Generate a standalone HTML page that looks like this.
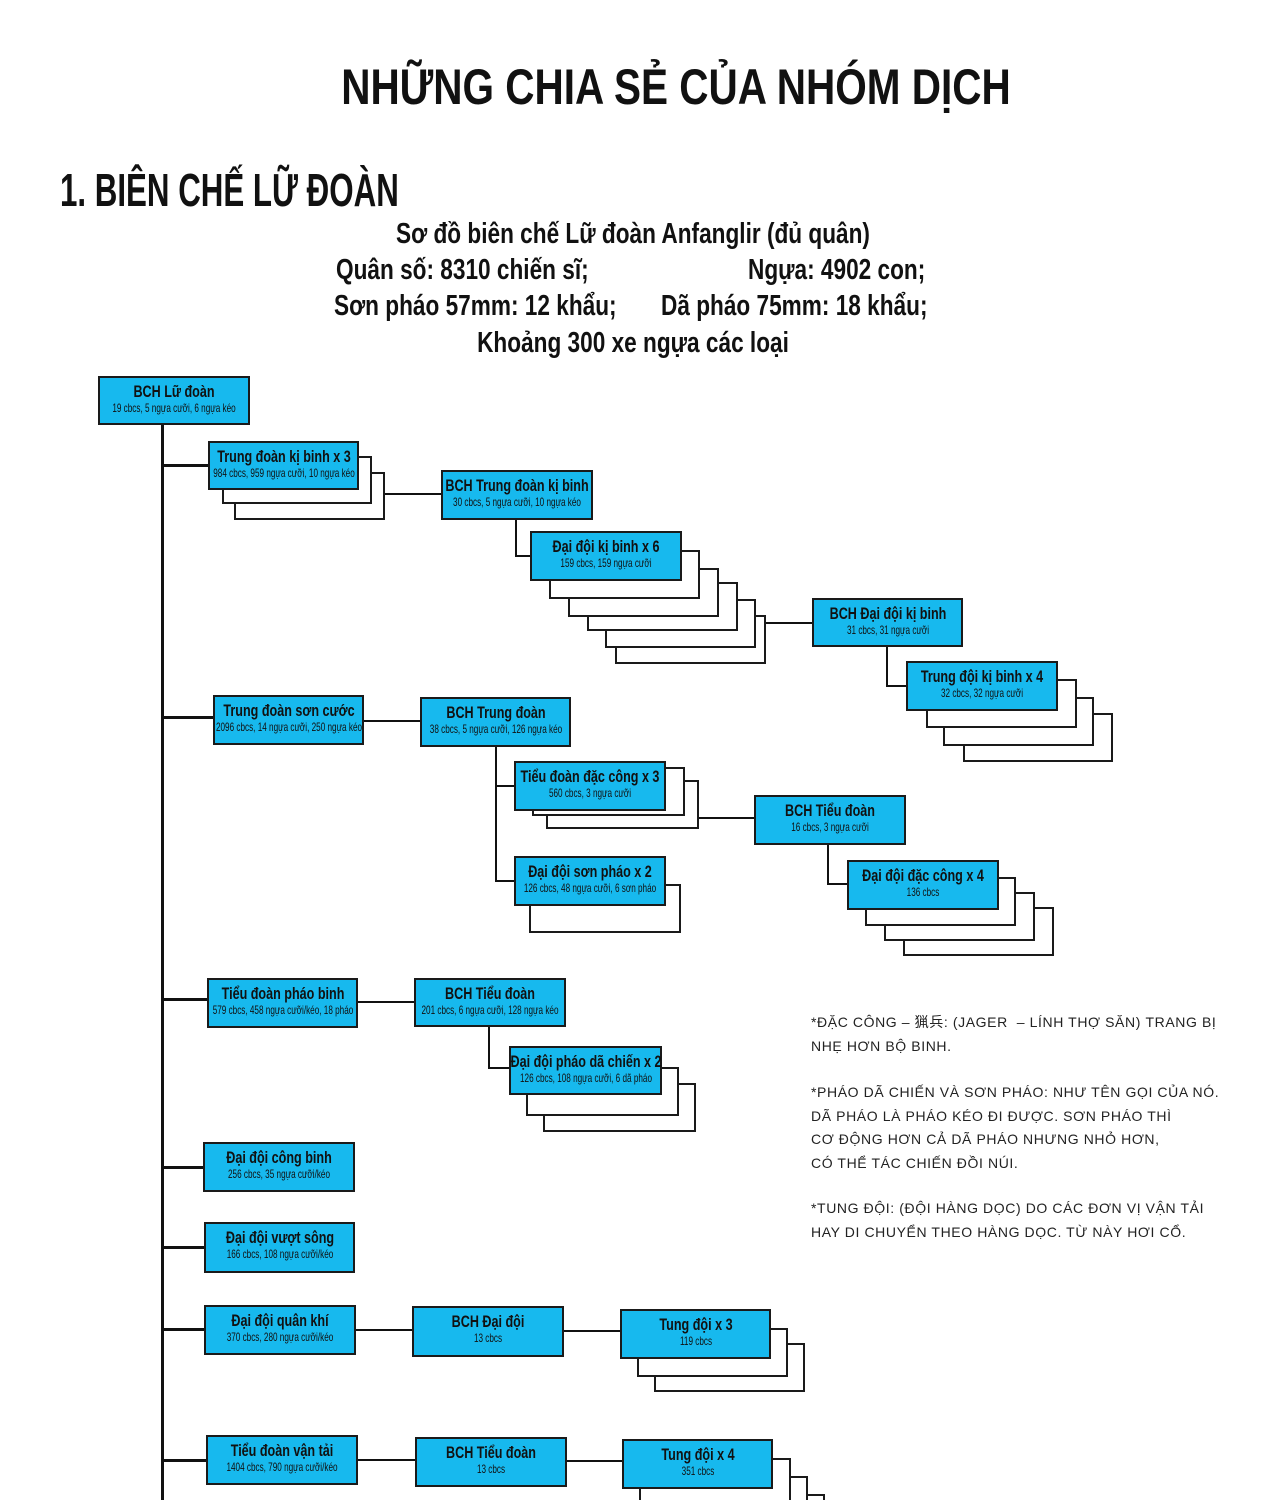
<!DOCTYPE html>
<html><head><meta charset="utf-8"><style>
html,body{margin:0;width:1266px;height:1500px;overflow:hidden}
body{background:#fff;position:relative;font-family:"Liberation Sans","Noto Sans CJK SC",sans-serif;}
.b{position:absolute;background:#17b9ee;border:2px solid #1a1a1a;box-sizing:border-box;color:#111;z-index:5}
.c{position:absolute;background:#fff;border:2px solid #1a1a1a;box-sizing:border-box}
.t,.s{position:absolute;left:50%;white-space:nowrap;transform:translateX(-50%) scaleX(.74)}
.t{top:4px;font-weight:bold;font-size:17px;line-height:19px}
.s{top:24px;font-size:12px;line-height:13px;transform:translateX(-50%) scaleX(.68)}
.h{position:absolute;background:#111}
.txt{position:absolute;white-space:nowrap;font-weight:bold;color:#111}
.n{position:absolute;left:811px;font-size:14px;line-height:23.5px;color:#222;letter-spacing:.6px;white-space:nowrap}
</style></head><body>
<div class="txt" style="left:0;width:1352px;top:58px;text-align:center;font-size:50px;transform:scaleX(.81);">NHỮNG CHIA SẺ CỦA NHÓM DỊCH</div>
<div class="txt" style="left:60px;top:163px;font-size:46px;transform:scaleX(.68);transform-origin:left;">1. BIÊN CHẾ LỮ ĐOÀN</div>
<div class="txt" style="left:0;width:1266px;top:216px;text-align:center;font-size:29px;line-height:36px;font-weight:bold;">
<div style="transform:scaleX(.78)">Sơ đồ biên chế Lữ đoàn Anfanglir (đủ quân)</div></div>
<div class="txt" style="left:336px;top:252px;font-size:29px;line-height:36px;transform:scaleX(.78);transform-origin:left;">Quân số: 8310 chiến sĩ;</div>
<div class="txt" style="left:748px;top:252px;font-size:29px;line-height:36px;transform:scaleX(.78);transform-origin:left;">Ngựa: 4902 con;</div>
<div class="txt" style="left:334px;top:288px;font-size:29px;line-height:36px;transform:scaleX(.78);transform-origin:left;">Sơn pháo 57mm: 12 khẩu;</div>
<div class="txt" style="left:661px;top:288px;font-size:29px;line-height:36px;transform:scaleX(.78);transform-origin:left;">Dã pháo 75mm: 18 khẩu;</div>
<div class="txt" style="left:0;width:1266px;top:325px;text-align:center;font-size:29px;line-height:36px;"><div style="transform:scaleX(.78)">Khoảng 300 xe ngựa các loại</div></div>

<!-- connectors -->
<div class="h" style="left:161px;top:424px;width:3px;height:1076px"></div>
<div class="h" style="left:162px;top:464px;width:46px;height:3px"></div>
<div class="h" style="left:162px;top:716px;width:51px;height:3px"></div>
<div class="h" style="left:162px;top:998px;width:45px;height:3px"></div>
<div class="h" style="left:162px;top:1166px;width:41px;height:3px"></div>
<div class="h" style="left:162px;top:1246px;width:42px;height:3px"></div>
<div class="h" style="left:162px;top:1328px;width:42px;height:3px"></div>
<div class="h" style="left:162px;top:1459px;width:44px;height:3px"></div>
<div class="h" style="left:385px;top:493px;width:56px;height:2px"></div>
<div class="h" style="left:515px;top:519px;width:2px;height:38px"></div>
<div class="h" style="left:515px;top:555px;width:16px;height:2px"></div>
<div class="h" style="left:766px;top:622px;width:46px;height:2px"></div>
<div class="h" style="left:886px;top:646px;width:2px;height:41px"></div>
<div class="h" style="left:886px;top:685px;width:21px;height:2px"></div>
<div class="h" style="left:363px;top:720px;width:57px;height:2px"></div>
<div class="h" style="left:495px;top:746px;width:2px;height:136px"></div>
<div class="h" style="left:495px;top:785px;width:20px;height:2px"></div>
<div class="h" style="left:495px;top:880px;width:19px;height:2px"></div>
<div class="h" style="left:698px;top:817px;width:56px;height:2px"></div>
<div class="h" style="left:827px;top:844px;width:2px;height:41px"></div>
<div class="h" style="left:827px;top:883px;width:21px;height:2px"></div>
<div class="h" style="left:357px;top:1001px;width:57px;height:2px"></div>
<div class="h" style="left:488px;top:1026px;width:2px;height:43px"></div>
<div class="h" style="left:488px;top:1067px;width:21px;height:2px"></div>
<div class="h" style="left:355px;top:1329px;width:57px;height:2px"></div>
<div class="h" style="left:563px;top:1330px;width:57px;height:2px"></div>
<div class="h" style="left:357px;top:1459px;width:58px;height:2px"></div>
<div class="h" style="left:566px;top:1460px;width:56px;height:2px"></div>

<!-- copies -->
<div class="c" style="left:234px;top:472px;width:151px;height:48px;z-index:1"></div>
<div class="c" style="left:222px;top:456px;width:150px;height:48px;z-index:2"></div>

<div class="c" style="left:615px;top:615px;width:151px;height:49px;z-index:0"></div>
<div class="c" style="left:605px;top:599px;width:151px;height:49px;z-index:1"></div>
<div class="c" style="left:587px;top:582px;width:151px;height:49px;z-index:2"></div>
<div class="c" style="left:568px;top:568px;width:151px;height:49px;z-index:3"></div>
<div class="c" style="left:549px;top:550px;width:151px;height:49px;z-index:4"></div>

<div class="c" style="left:963px;top:713px;width:150px;height:49px;z-index:1"></div>
<div class="c" style="left:943px;top:697px;width:151px;height:49px;z-index:2"></div>
<div class="c" style="left:926px;top:679px;width:151px;height:49px;z-index:3"></div>

<div class="c" style="left:546px;top:780px;width:153px;height:49px;z-index:2"></div>
<div class="c" style="left:532px;top:767px;width:153px;height:49px;z-index:3"></div>
<div class="c" style="left:529px;top:884px;width:152px;height:49px;z-index:3"></div>

<div class="c" style="left:903px;top:907px;width:151px;height:49px;z-index:1"></div>
<div class="c" style="left:884px;top:892px;width:151px;height:49px;z-index:2"></div>
<div class="c" style="left:865px;top:877px;width:151px;height:49px;z-index:3"></div>

<div class="c" style="left:543px;top:1083px;width:153px;height:49px;z-index:2"></div>
<div class="c" style="left:526px;top:1067px;width:153px;height:49px;z-index:3"></div>

<div class="c" style="left:654px;top:1343px;width:151px;height:49px;z-index:2"></div>
<div class="c" style="left:637px;top:1328px;width:151px;height:49px;z-index:3"></div>

<div class="c" style="left:673px;top:1494px;width:152px;height:49px;z-index:1"></div>
<div class="c" style="left:656px;top:1476px;width:152px;height:49px;z-index:2"></div>
<div class="c" style="left:639px;top:1458px;width:152px;height:49px;z-index:3"></div>

<!-- boxes -->
<div class="b" style="left:98px;top:376px;width:152px;height:49px"><span class="t">BCH Lữ đoàn</span><span class="s">19 cbcs, 5 ngựa cưỡi, 6 ngựa kéo</span></div>
<div class="b" style="left:208px;top:441px;width:151px;height:49px"><span class="t">Trung đoàn kị binh x 3</span><span class="s">984 cbcs, 959 ngựa cưỡi, 10 ngựa kéo</span></div>
<div class="b" style="left:441px;top:470px;width:152px;height:50px"><span class="t">BCH Trung đoàn kị binh</span><span class="s">30 cbcs, 5 ngựa cưỡi, 10 ngựa kéo</span></div>
<div class="b" style="left:530px;top:531px;width:152px;height:50px"><span class="t">Đại đội kị binh x 6</span><span class="s">159 cbcs, 159 ngựa cưỡi</span></div>
<div class="b" style="left:812px;top:598px;width:151px;height:49px"><span class="t">BCH Đại đội kị binh</span><span class="s">31 cbcs, 31 ngựa cưỡi</span></div>
<div class="b" style="left:906px;top:661px;width:152px;height:50px"><span class="t">Trung đội kị binh x 4</span><span class="s">32 cbcs, 32 ngựa cưỡi</span></div>
<div class="b" style="left:213px;top:695px;width:151px;height:50px"><span class="t">Trung đoàn sơn cước</span><span class="s">2096 cbcs, 14 ngựa cưỡi, 250 ngựa kéo</span></div>
<div class="b" style="left:420px;top:697px;width:151px;height:50px"><span class="t">BCH Trung đoàn</span><span class="s">38 cbcs, 5 ngựa cưỡi, 126 ngựa kéo</span></div>
<div class="b" style="left:514px;top:761px;width:152px;height:50px"><span class="t">Tiểu đoàn đặc công x 3</span><span class="s">560 cbcs, 3 ngựa cưỡi</span></div>
<div class="b" style="left:754px;top:795px;width:152px;height:50px"><span class="t">BCH Tiểu đoàn</span><span class="s">16 cbcs, 3 ngựa cưỡi</span></div>
<div class="b" style="left:514px;top:856px;width:152px;height:50px"><span class="t">Đại đội sơn pháo x 2</span><span class="s">126 cbcs, 48 ngựa cưỡi, 6 sơn pháo</span></div>
<div class="b" style="left:847px;top:860px;width:152px;height:50px"><span class="t">Đại đội đặc công x 4</span><span class="s">136 cbcs</span></div>
<div class="b" style="left:207px;top:978px;width:151px;height:50px"><span class="t">Tiểu đoàn pháo binh</span><span class="s">579 cbcs, 458 ngựa cưỡi/kéo, 18 pháo</span></div>
<div class="b" style="left:414px;top:978px;width:152px;height:49px"><span class="t">BCH Tiểu đoàn</span><span class="s">201 cbcs, 6 ngựa cưỡi, 128 ngựa kéo</span></div>
<div class="b" style="left:509px;top:1046px;width:153px;height:49px"><span class="t">Đại đội pháo dã chiến x 2</span><span class="s">126 cbcs, 108 ngựa cưỡi, 6 dã pháo</span></div>
<div class="b" style="left:203px;top:1142px;width:152px;height:50px"><span class="t">Đại đội công binh</span><span class="s">256 cbcs, 35 ngựa cưỡi/kéo</span></div>
<div class="b" style="left:204px;top:1222px;width:151px;height:51px"><span class="t">Đại đội vượt sông</span><span class="s">166 cbcs, 108 ngựa cưỡi/kéo</span></div>
<div class="b" style="left:204px;top:1305px;width:152px;height:50px"><span class="t">Đại đội quân khí</span><span class="s">370 cbcs, 280 ngựa cưỡi/kéo</span></div>
<div class="b" style="left:412px;top:1306px;width:152px;height:51px"><span class="t">BCH Đại đội</span><span class="s">13 cbcs</span></div>
<div class="b" style="left:620px;top:1309px;width:151px;height:50px"><span class="t">Tung đội x 3</span><span class="s">119 cbcs</span></div>
<div class="b" style="left:206px;top:1435px;width:152px;height:50px"><span class="t">Tiểu đoàn vận tải</span><span class="s">1404 cbcs, 790 ngựa cưỡi/kéo</span></div>
<div class="b" style="left:415px;top:1437px;width:152px;height:50px"><span class="t">BCH Tiểu đoàn</span><span class="s">13 cbcs</span></div>
<div class="b" style="left:622px;top:1439px;width:151px;height:50px"><span class="t">Tung đội x 4</span><span class="s">351 cbcs</span></div>

<!-- notes -->
<div class="n" style="top:1011px">*ĐẶC CÔNG – 猟兵: (JAGER &nbsp;– LÍNH THỢ SĂN) TRANG BỊ<br>NHẸ HƠN BỘ BINH.</div>
<div class="n" style="top:1081px">*PHÁO DÃ CHIẾN VÀ SƠN PHÁO: NHƯ TÊN GỌI CỦA NÓ.<br>DÃ PHÁO LÀ PHÁO KÉO ĐI ĐƯỢC. SƠN PHÁO THÌ<br>CƠ ĐỘNG HƠN CẢ DÃ PHÁO NHƯNG NHỎ HƠN,<br>CÓ THỂ TÁC CHIẾN ĐỒI NÚI.</div>
<div class="n" style="top:1197px">*TUNG ĐỘI: (ĐỘI HÀNG DỌC) DO CÁC ĐƠN VỊ VẬN TẢI<br>HAY DI CHUYỂN THEO HÀNG DỌC. TỪ NÀY HƠI CỔ.</div>
</body></html>
